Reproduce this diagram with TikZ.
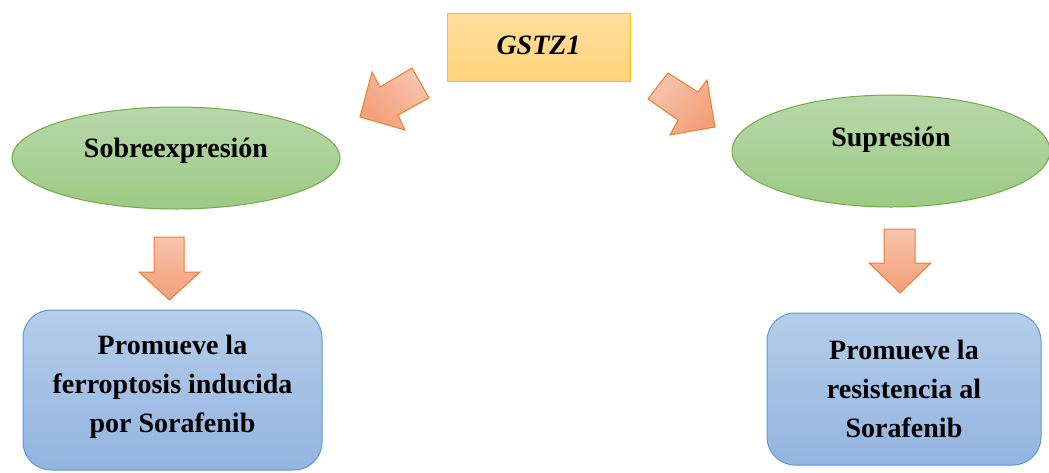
\documentclass[tikz,border=0pt]{standalone}
\usepackage{fontspec}
\setmainfont{Liberation Serif}
\usetikzlibrary{shapes.geometric}
\definecolor{gtop}{HTML}{FFDE9E}
\definecolor{gbot}{HTML}{FFD47A}
\definecolor{gline}{HTML}{FFC000}
\definecolor{atop}{HTML}{F8C4AC}
\definecolor{abot}{HTML}{F29E78}
\definecolor{aline}{HTML}{ED7D31}
\definecolor{etop}{HTML}{B8D8AA}
\definecolor{ebot}{HTML}{9CCA84}
\definecolor{eline}{HTML}{70AD47}
\definecolor{btop}{HTML}{B6CDEA}
\definecolor{bbot}{HTML}{92B4E0}
\definecolor{bline}{HTML}{5B9BD5}
\tikzset{
  txt/.style={font=\fontsize{28}{39}\selectfont\bfseries, align=center, inner sep=0pt},
  genebox/.style={draw=gline, line width=1pt, top color=gtop, bottom color=gbot, inner sep=0pt},
  oval/.style={ellipse, draw=eline, line width=1pt, top color=etop, bottom color=ebot, inner sep=0pt},
  resbox/.style={rectangle, rounded corners=28pt, draw=bline, line width=1pt, top color=btop, bottom color=bbot, inner sep=0pt},
  blockarrow/.style={draw=aline, line width=1pt, line join=miter, top color=atop, bottom color=abot},
}
\begin{document}
\begin{tikzpicture}[x=1pt,y=-1pt]
\useasboundingbox (0,0) rectangle (1049,472);
% top gene box
\node[genebox, minimum width=183pt, minimum height=68pt] (g) at (538.5,47) {};
\node[txt] (gt) at (538.5,45) {\textit{GSTZ1}};
% ellipses
\node[oval, minimum width=328pt, minimum height=102pt] (e1) at (176,158) {};
\node[txt] (e1t) at (176,151) {Sobreexpresión};
\node[oval, minimum width=318pt, minimum height=112pt] (e2) at (891,151) {};
\node[txt] (e2t) at (891,140) {Supresión};
% diagonal block arrows
\draw[blockarrow, top color=abot, bottom color=atop, shading angle=135] (360,117) -- (372,72) -- (380,87) -- (412,68) -- (429,98) -- (398,115) -- (405,130) -- cycle;
\draw[blockarrow, shading angle=45] (648,99) -- (668,73) -- (698,92) -- (707,80) -- (715,127) -- (670,135) -- (678,120) -- cycle;
% down block arrows
\draw[blockarrow] (154,237) -- (184,237) -- (184,272) -- (200,272) -- (169.5,300) -- (139,272) -- (154,272) -- cycle;
\draw[blockarrow] (884,229) -- (915,229) -- (915,263) -- (931,263) -- (900,293) -- (869,263) -- (884,263) -- cycle;
% result boxes
\node[resbox, minimum width=299pt, minimum height=160pt] (r1) at (172.5,390) {};
\node[txt] (r1t) at (172.5,387) {Promueve la\\ferroptosis inducida\\por Sorafenib};
\node[resbox, minimum width=274pt, minimum height=152pt] (r2) at (904,389) {};
\node[txt] (r2t) at (904,389) {Promueve la\\resistencia al\\Sorafenib};
\end{tikzpicture}
\end{document}
